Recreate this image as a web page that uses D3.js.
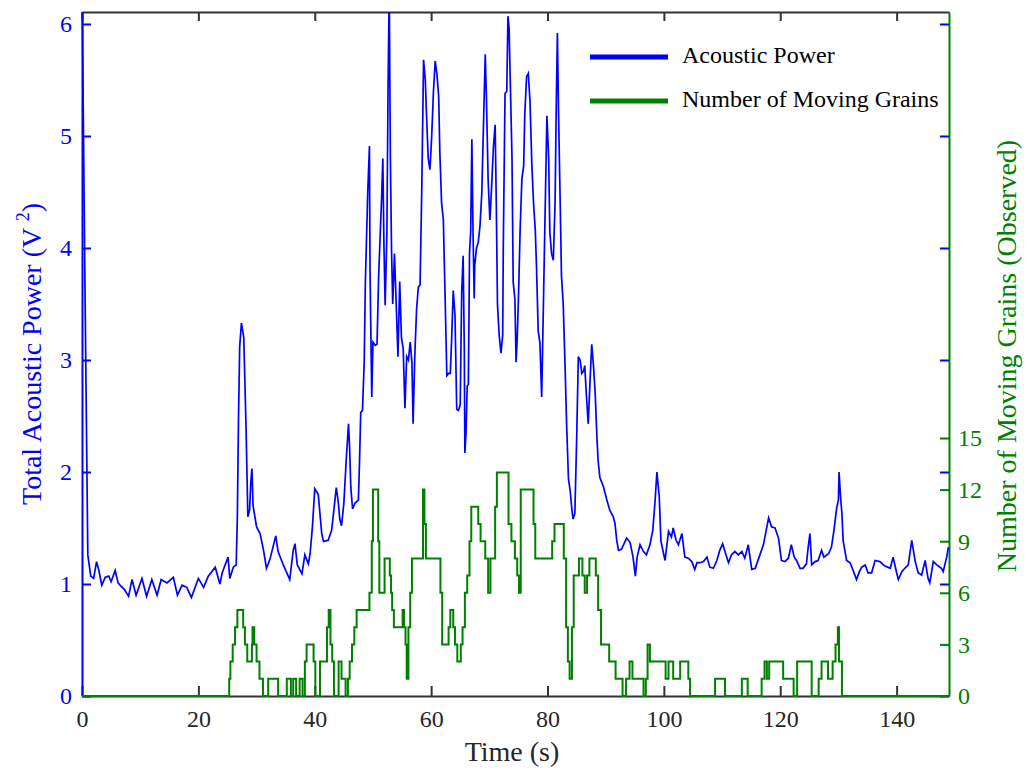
<!DOCTYPE html>
<html><head><meta charset="utf-8">
<script src="https://cdn.jsdelivr.net/npm/d3@7"></script>
<style>
body{margin:0;background:#fff}
svg{display:block}
text{font-family:"Liberation Serif","Times New Roman",serif}
</style>
</head><body>
<svg id="c" width="1028" height="770"></svg>
<script>
// ---------- data ----------
const timeTicks = [0,20,40,60,80,100,120,140];
const powerTicks = [0,1,2,3,4,5,6];
const grainTicks = [0,3,6,9,12,15];
const seriesNames = ["Acoustic Power","Number of Moving Grains"];
const axisTitles = {x:"Time (s)", left:"Total Acoustic Power (V", right:"Number of Moving Grains (Observed)"};

// [time (s), total acoustic power (V^2)]
const acousticPower = [[0,6.4],[0.5,3.71],[1,1.26],[1.5,1.07],[2,1.05],[2.5,1.2],[2.9,1.12],[3.4,0.99],[4,1.06],[4.6,1.07],[5,1.02],[5.7,1.12],[6.2,1.01],[6.7,0.98],[7.3,0.95],[8,0.89],[8.6,1.04],[9.3,0.9],[10.3,1.05],[11.1,0.89],[12,1.04],[12.9,0.9],[13.6,1.04],[14.6,1.01],[15.7,1.06],[16.4,0.9],[17.2,0.99],[18,0.97],[18.8,0.88],[20,1.05],[20.9,0.97],[21.7,1.07],[22.9,1.15],[23.7,1.0],[24.1,1.1],[25.1,1.24],[25.4,1.05],[26,1.15],[26.5,1.17],[26.7,1.6],[26.9,2.49],[27.1,3.12],[27.4,3.33],[27.8,3.2],[28.2,2.38],[28.5,1.6],[28.8,1.66],[29.0,1.9],[29.2,2.03],[29.4,1.7],[30.0,1.51],[30.6,1.45],[31.2,1.3],[31.7,1.14],[32.3,1.22],[33.3,1.43],[33.7,1.29],[34.6,1.17],[35.7,1.04],[36.3,1.3],[36.6,1.36],[37.0,1.17],[37.8,1.09],[38.3,1.26],[38.9,1.18],[39.2,1.27],[39.6,1.51],[40.0,1.85],[40.6,1.8],[41.2,1.45],[41.5,1.38],[42.3,1.39],[42.9,1.48],[43.2,1.62],[43.7,1.86],[44.0,1.75],[44.3,1.58],[44.6,1.52],[45.0,1.72],[45.4,2.1],[45.8,2.43],[46.0,2.2],[46.2,1.86],[46.5,1.67],[46.9,1.72],[47.5,1.75],[47.7,2.1],[47.9,2.53],[48.2,2.55],[48.5,2.98],[48.7,3.7],[49.1,4.49],[49.4,4.91],[49.5,3.79],[49.7,3.03],[49.8,2.67],[50.0,3.16],[50.4,3.13],[50.7,3.14],[51.0,3.78],[51.5,4.46],[51.7,4.8],[51.9,4.0],[52.1,3.49],[52.4,4.14],[52.6,5.45],[52.8,6.3],[53.0,4.8],[53.2,3.97],[53.4,3.5],[53.7,3.95],[54.0,3.5],[54.3,3.03],[54.6,3.7],[54.9,3.2],[55.2,3.1],[55.5,2.57],[55.8,3.03],[56.1,3.0],[56.4,3.16],[56.7,2.98],[56.9,2.43],[57.2,3.05],[57.5,3.45],[57.8,3.65],[58.1,3.67],[58.4,4.55],[58.7,5.68],[59.0,5.5],[59.2,5.2],[59.5,4.8],[59.8,4.7],[60.1,5.0],[60.4,5.4],[60.7,5.67],[61.0,5.55],[61.3,5.35],[61.5,4.85],[61.8,4.4],[62.1,4.25],[62.4,3.57],[62.7,2.86],[63.0,2.88],[63.3,2.88],[63.5,3.15],[63.8,3.62],[64.1,3.4],[64.4,2.56],[64.7,2.55],[65.0,2.6],[65.25,3.6],[65.5,3.93],[65.7,3.1],[65.8,2.17],[66.0,2.35],[66.2,2.77],[66.4,2.78],[66.6,3.96],[66.8,4.15],[67.0,4.97],[67.2,4.15],[67.4,3.55],[67.5,3.85],[67.8,4.0],[68.1,4.05],[68.4,4.2],[68.7,4.48],[69.0,5.1],[69.3,5.73],[69.5,5.35],[69.8,4.6],[70.1,4.25],[70.4,4.55],[70.7,4.9],[71.0,5.1],[71.2,4.4],[71.4,3.5],[71.7,3.22],[72.0,3.06],[72.3,3.22],[72.4,4.0],[72.7,5.38],[73.0,5.4],[73.2,6.07],[73.4,5.96],[73.6,5.5],[73.9,4.8],[74.1,3.7],[74.4,3.54],[74.6,2.98],[74.8,3.2],[75.0,3.54],[75.3,4.17],[75.6,4.62],[75.9,4.73],[76.1,5.2],[76.4,5.53],[76.7,5.56],[77.0,5.3],[77.3,4.76],[77.6,4.4],[77.9,4.16],[78.1,3.85],[78.4,3.26],[78.7,3.15],[79.0,2.67],[79.2,3.22],[79.6,4.35],[79.9,5.18],[80.2,4.8],[80.4,4.14],[80.7,3.95],[81.0,3.89],[81.3,4.4],[81.5,5.25],[81.7,5.92],[81.9,5.2],[82.2,4.35],[82.4,3.75],[82.7,3.5],[83.0,2.98],[83.3,2.4],[83.6,1.94],[83.9,1.83],[84.2,1.66],[84.4,1.58],[84.7,1.63],[85.0,2.27],[85.3,3.03],[85.6,3.0],[85.9,2.88],[86.2,2.9],[86.4,2.95],[86.7,2.67],[87.0,2.43],[87.3,2.8],[87.6,3.14],[87.9,2.95],[88.2,2.7],[88.5,2.3],[88.7,2.1],[89.0,1.95],[89.6,1.87],[90.2,1.75],[90.7,1.66],[91.3,1.6],[91.6,1.54],[91.9,1.39],[92.2,1.3],[92.7,1.31],[93.6,1.41],[94.2,1.37],[94.7,1.24],[95.1,1.07],[95.4,1.24],[95.9,1.35],[96.5,1.29],[97.0,1.26],[97.6,1.35],[98.1,1.48],[98.5,1.75],[98.8,2.0],[99.2,1.78],[99.5,1.38],[100.2,1.21],[100.8,1.47],[101.3,1.42],[101.6,1.5],[102.1,1.39],[102.5,1.35],[103.1,1.45],[103.6,1.24],[104.2,1.23],[104.8,1.2],[105.3,1.13],[105.7,1.19],[106.2,1.19],[106.8,1.2],[107.4,1.24],[107.9,1.15],[108.5,1.14],[109.1,1.21],[109.6,1.3],[110.1,1.36],[110.5,1.29],[111.1,1.19],[111.6,1.26],[112.2,1.29],[112.8,1.26],[113.4,1.29],[113.9,1.23],[114.5,1.35],[115.1,1.13],[115.7,1.14],[116.5,1.26],[117.1,1.35],[117.7,1.51],[118.0,1.59],[118.5,1.51],[119.1,1.5],[119.7,1.41],[120.2,1.21],[120.8,1.2],[121.4,1.23],[121.9,1.35],[122.4,1.24],[122.8,1.21],[123.4,1.14],[123.9,1.14],[124.5,1.18],[124.8,1.33],[125.1,1.45],[125.4,1.17],[126.0,1.2],[126.5,1.21],[127.1,1.3],[127.5,1.24],[128.3,1.27],[128.8,1.33],[129.2,1.47],[129.7,1.68],[130.0,1.75],[130.1,2.0],[130.4,1.75],[130.6,1.63],[130.8,1.39],[131.4,1.21],[132.0,1.19],[132.6,1.11],[133.1,1.04],[133.6,1.11],[134.0,1.15],[134.6,1.17],[135.1,1.1],[135.7,1.1],[136.3,1.21],[137.1,1.2],[138.0,1.16],[138.9,1.14],[139.4,1.24],[140.0,1.1],[140.3,1.04],[140.9,1.11],[141.4,1.14],[142.0,1.17],[142.6,1.39],[143.2,1.2],[143.7,1.1],[144.3,1.08],[144.9,1.21],[145.4,1.05],[145.7,1.01],[146.3,1.2],[146.9,1.17],[147.7,1.14],[148.0,1.11],[148.6,1.24],[148.9,1.33]];

// [time (s) at which the count changes, number of moving grains from then on]
const movingGrains = [[0,0],[25.3,1],[25.5,2],[25.9,3],[26.3,4],[26.7,5],[27.7,4],[28.0,3],[28.4,2],[29.2,3],[29.3,4],[29.6,3],[30.0,2],[30.5,1],[31.1,0],[32.0,1],[33.7,0],[35.2,1],[35.9,0],[36.3,1],[36.8,0],[37.4,1],[37.9,0],[38.3,2],[38.6,3],[39.8,2],[40.1,0],[40.9,2],[42.1,4],[42.4,5],[42.7,3],[43.0,2],[43.3,0],[44.1,2],[44.6,1],[45.3,0],[45.7,1],[46.0,2],[46.4,3],[46.8,4],[47.2,5],[49.4,6],[49.8,9],[50.0,12],[50.9,9],[51.1,6],[52.0,8],[52.9,7],[53.1,6],[53.3,5],[53.6,4],[55.1,5],[55.35,4],[55.6,3],[55.8,1],[56.1,4],[56.4,6],[56.7,8],[58.6,12],[58.85,10],[59.1,8],[61.6,6],[61.9,3],[63.0,4],[63.3,5],[63.8,4],[64.1,3],[64.5,2],[65.1,3],[65.4,4],[65.8,6],[66.2,7],[66.6,9],[66.9,11],[68.1,10],[68.5,9],[69.3,8],[69.8,6],[70.2,8],[71.0,11],[71.3,13],[73.3,10],[73.8,9],[74.4,8],[74.8,7],[75.1,6],[75.4,12],[77.6,10],[77.9,8],[80.8,9],[81.2,10],[82.8,8],[83.2,4],[83.5,2],[83.8,1],[84.2,4],[84.5,7],[85.4,8],[86.0,7],[86.4,6],[86.8,7],[87.2,8],[88.3,7],[88.7,5],[89.2,3],[90.6,2],[91.7,1],[92.9,0],[93.5,1],[94.1,2],[94.6,1],[96.5,0],[96.9,1],[97.2,3],[97.6,2],[100.3,1],[100.8,2],[101.6,1],[102.8,2],[104.2,1],[104.5,0],[108.8,1],[110.5,0],[113.4,1],[114.4,0],[116.8,1],[117.3,2],[117.7,1],[118.1,2],[120.5,1],[122.3,0],[122.9,2],[125.4,0],[126.6,1],[127.1,2],[128.2,1],[129.0,2],[129.5,3],[129.9,4],[130.1,2],[130.6,0],[149,0]];

// ---------- drawing ----------
const svg = d3.select("#c");
const BLUE = "#0000ff", GREEN = "#008000", DARK = "#262626";
const L = 82, R = 949, T = 12, B = 696;

const x  = d3.scaleLinear().domain([0,149]).range([L,R]);
const yL = d3.scaleLinear().domain([0,6.107]).range([B,T]);
const yR = d3.scaleLinear().domain([0,39.77]).range([B,T]);
const fmt = d3.format("d");

svg.append("defs").append("clipPath").attr("id","plot")
  .append("rect").attr("x",L-1).attr("y",T).attr("width",R-L+2).attr("height",B-T+2);

function styleAxis(g, color, w){
  g.select(".domain").attr("stroke",color).attr("stroke-width",w);
  g.selectAll(".tick line").attr("stroke",color).attr("stroke-width",2);
  g.selectAll("text").attr("fill",color).attr("font-size",24)
    .attr("font-family",'"Liberation Serif","Times New Roman",serif');
}

// bottom axis
const gB = svg.append("g").attr("transform",`translate(0,${B})`)
  .call(d3.axisBottom(x).tickValues(timeTicks).tickSizeInner(-10).tickSizeOuter(0).tickFormat(fmt));
styleAxis(gB,"#333",2);
gB.selectAll("text").attr("fill",DARK).attr("y",31).attr("dy",0);

// top axis
const gT = svg.append("g").attr("transform",`translate(0,${T})`)
  .call(d3.axisTop(x).tickValues(timeTicks).tickSizeInner(-9).tickSizeOuter(0).tickFormat(""));
styleAxis(gT,"#333",2);

// right-side mirrored ticks of the left axis
const gRB = svg.append("g").attr("transform",`translate(${R},0)`)
  .call(d3.axisRight(yL).tickValues(powerTicks.slice(1)).tickSizeInner(-9).tickSizeOuter(0).tickFormat(""));
gRB.select(".domain").remove();
gRB.selectAll(".tick line").attr("stroke",BLUE).attr("stroke-width",2);

// right green axis
const gR = svg.append("g").attr("transform",`translate(${R},0)`)
  .call(d3.axisRight(yR).tickValues(grainTicks).tickSizeInner(-9).tickSizeOuter(0).tickFormat(fmt));
styleAxis(gR,GREEN,2);
gR.selectAll("text").attr("x",9).attr("dy","0.33em");

// left blue axis
const gL = svg.append("g").attr("transform",`translate(${L},0)`)
  .call(d3.axisLeft(yL).tickValues(powerTicks).tickSizeInner(-9).tickSizeOuter(0).tickFormat(fmt));
styleAxis(gL,BLUE,2);
gL.selectAll("text").attr("x",-10).attr("dy","0.33em");

// data
const plot = svg.append("g").attr("clip-path","url(#plot)");
plot.append("path").datum(movingGrains)
  .attr("fill","none").attr("stroke",GREEN).attr("stroke-width",2)
  .attr("d", d3.line().x(d=>x(d[0])).y(d=>yR(d[1])).curve(d3.curveStepAfter));
plot.append("path").datum(acousticPower)
  .attr("fill","none").attr("stroke",BLUE).attr("stroke-width",1.7)
  .attr("d", d3.line().x(d=>x(d[0])).y(d=>yL(d[1])));

// axis titles
svg.append("text").attr("x",512).attr("y",761).attr("text-anchor","middle")
  .attr("font-size",28).attr("fill",DARK).text(axisTitles.x);

const lt = svg.append("text").attr("transform","translate(41,354) rotate(-90)")
  .attr("text-anchor","middle").attr("font-size",28).attr("fill",BLUE);
lt.append("tspan").text(axisTitles.left + " ");
lt.append("tspan").attr("font-size",18).attr("dy",-12).text("2");
lt.append("tspan").attr("dy",12).text(")");

svg.append("text").attr("transform","translate(1016,356) rotate(-90)")
  .attr("text-anchor","middle").attr("font-size",28).attr("fill",GREEN).text(axisTitles.right);

// legend
const legColors = [BLUE, GREEN];
const leg = svg.append("g");
seriesNames.forEach((n,i)=>{
  const yy = 57 + i*44;
  leg.append("line").attr("x1",590).attr("x2",668).attr("y1",yy).attr("y2",yy)
    .attr("stroke",legColors[i]).attr("stroke-width",5);
  leg.append("text").attr("x",682).attr("y",yy+6).attr("font-size",24).attr("fill","#000").text(n);
});
</script>
</body></html>
